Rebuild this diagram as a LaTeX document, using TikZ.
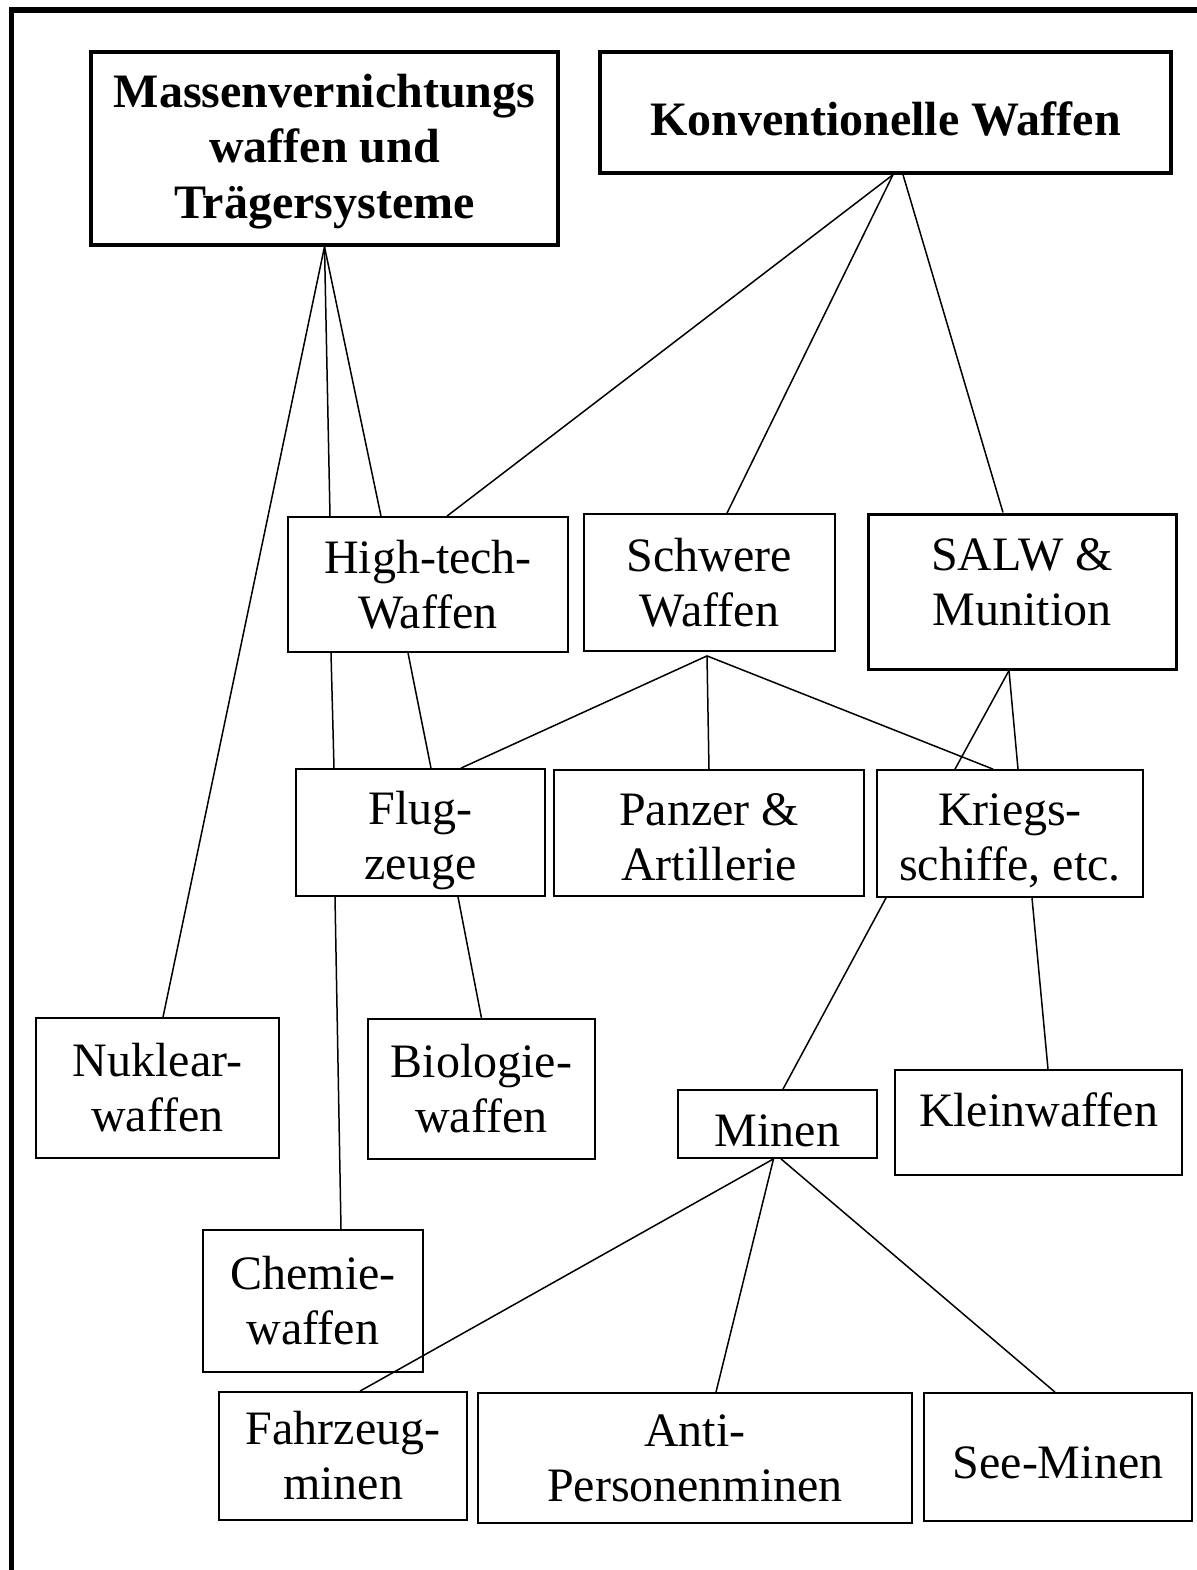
\documentclass[tikz,border=0pt]{standalone}
\usepackage{fontspec}
\setmainfont{Liberation Serif}

\begin{document}
\begin{tikzpicture}[x=0.5pt,y=-0.5pt,
    box/.style={draw,line width=0.9pt,align=center,inner sep=2pt,font=\fontsize{24}{27.5}\selectfont},
    bigbox/.style={box,line width=1.7pt,font=\fontsize{24}{27.75}\selectfont\bfseries},
    twoline/.style={text height=47pt,text depth=0pt},
    link/.style={line width=0.75pt}]
    \useasboundingbox (0,0) rectangle (1197,1570);
    \draw[line width=2.8pt] (11.5,1590) -- (11.5,9.7) -- (1220,9.7);

    \node[bigbox,minimum width=233.5pt,minimum height=96.5pt,text height=69.5pt,text depth=0pt] (mass) at (324.5,148.5) {Massenvernichtungs\\waffen und\\Trägersysteme};
    \node[bigbox,minimum width=285.5pt,minimum height=60.5pt,text height=22.5pt,text depth=0pt] (konv) at (885.5,112.5) {Konventionelle Waffen};

    \node[box,minimum width=140pt,minimum height=67.5pt] (hightech) at (428,584.5) {High-tech-\\Waffen};
    \node[box,minimum width=125.5pt,minimum height=68.5pt] (schwer) at (709.5,582.5) {Schwere\\Waffen};
    \node[box,line width=1.5pt,minimum width=154pt,minimum height=77.5pt,text height=34.2pt,text depth=0pt] (salw) at (1022,591.5) {SALW \&\\Munition};

    \node[box,twoline,minimum width=124.5pt,minimum height=63.5pt] (flug) at (420.5,832.5) {Flug-\\zeuge};
    \node[box,twoline,minimum width=155pt,minimum height=63pt] (panzer) at (709,833) {Panzer \&\\Artillerie};
    \node[box,twoline,minimum width=133pt,minimum height=63.5pt] (kriegs) at (1010,833.5) {Kriegs-\\schiffe, etc.};

    \node[box,minimum width=121.5pt,minimum height=70pt] (nukl) at (157.5,1088) {Nuklear-\\waffen};
    \node[box,minimum width=113.5pt,minimum height=70pt] (bio) at (481.5,1089) {Biologie-\\waffen};
    \node[box,minimum width=99.5pt,minimum height=34pt,text height=22.7pt,text depth=0pt] (minen) at (777.5,1124) {Minen};
    \node[box,minimum width=143.5pt,minimum height=52.5pt,text height=10pt,text depth=6.5pt] (klein) at (1038.5,1122.5) {Kleinwaffen};

    \node[box,minimum width=110pt,minimum height=71pt] (chemie) at (313,1301) {Chemie-\\waffen};
    \node[box,minimum width=124pt,minimum height=64pt] (fahr) at (343,1456) {Fahrzeug-\\minen};
    \node[box,minimum width=217pt,minimum height=65pt] (anti) at (695,1458) {Anti-\\Personenminen};
    \node[box,minimum width=134pt,minimum height=64pt,text height=21pt,text depth=0pt] (see) at (1058,1457) {See-Minen};

    \path[link] (mass.south) edge ([xshift=2.75pt]nukl.north)
        (mass.south) edge ([xshift=-49pt]hightech.north)
        (mass.south) edge ([xshift=-23.5pt]hightech.north)
        ([xshift=3.75pt]konv.south) edge ([xshift=9.5pt]hightech.north)
        ([xshift=3.75pt]konv.south) edge ([xshift=8.75pt]schwer.north)
        ([xshift=8.75pt]konv.south) edge ([xshift=-9.5pt]salw.north)
        ([xshift=-48.5pt]hightech.south) edge ([xshift=-43.25pt]flug.north)
        ([xshift=-10pt]hightech.south) edge ([xshift=5.25pt]flug.north)
        ([xshift=-1.25pt,yshift=-2pt]schwer.south) edge ([xshift=20.25pt]flug.north)
        ([xshift=-1.25pt,yshift=-2pt]schwer.south) edge (panzer.north)
        ([xshift=-1.25pt,yshift=-2pt]schwer.south) edge ([xshift=-8.5pt]kriegs.north)
        ([xshift=-6.5pt]salw.south) edge ([xshift=-27.5pt]kriegs.north)
        ([xshift=-6.5pt]salw.south) edge ([xshift=4pt]kriegs.north)
        ([xshift=-42.75pt]flug.south) edge ([xshift=14pt]chemie.north)
        ([xshift=18.75pt]flug.south) edge (bio.north)
        ([xshift=-62pt]kriegs.south) edge ([xshift=2.75pt]minen.north)
        ([xshift=11pt]kriegs.south) edge ([xshift=4.75pt]klein.north)
        ([xshift=-2pt]minen.south) edge ([xshift=8.5pt]fahr.north)
        ([xshift=-2pt]minen.south) edge ([xshift=10.5pt]anti.north)
        ([xshift=1.75pt]minen.south) edge ([xshift=-1.5pt]see.north);
\end{tikzpicture}
\end{document}
